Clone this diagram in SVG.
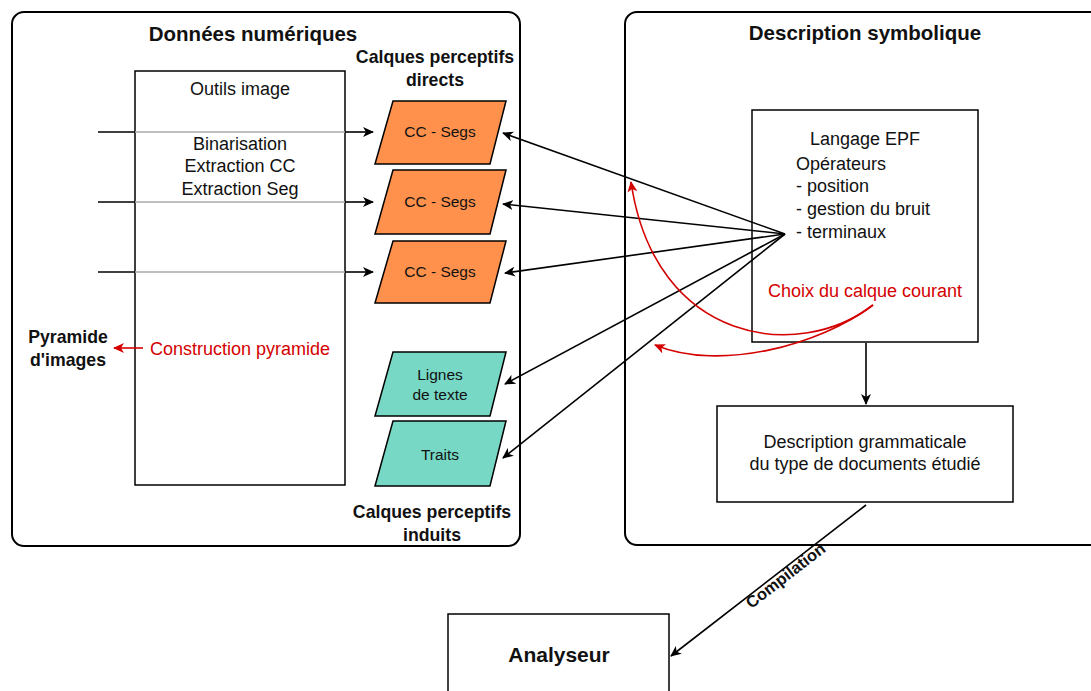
<svg xmlns="http://www.w3.org/2000/svg" width="1091" height="691" viewBox="0 0 1091 691">
<style>
text{font-family:"Liberation Sans",Arial,sans-serif;fill:#111}
.t{font-weight:bold;font-size:20.5px;text-anchor:middle}
.b{font-weight:bold;font-size:17.7px;text-anchor:middle}
.n{font-size:18px}
.c{text-anchor:middle}
.s{font-size:15.5px;text-anchor:middle}
.red{fill:#D40000}
.cont{fill:#fff;stroke:#000;stroke-width:2}
.box{fill:#fff;stroke:#000;stroke-width:1.5}
.or{fill:#FF914D;stroke:#000;stroke-width:1.5}
.gr{fill:#76D8C5;stroke:#000;stroke-width:1.5}
.ln{stroke:#000;stroke-width:1.6;fill:none}
.rl{stroke:#D40000;stroke-width:1.6;fill:none}
</style>
<defs>
<marker id="ab" markerWidth="12" markerHeight="10" refX="10" refY="5" orient="auto" markerUnits="userSpaceOnUse"><path d="M0,0 L11,5 L0,10 L3,5 z" fill="#000"/></marker>
<marker id="ar" markerWidth="12" markerHeight="10" refX="10" refY="5" orient="auto" markerUnits="userSpaceOnUse"><path d="M0,0 L11,5 L0,10 L3,5 z" fill="#D40000"/></marker>
</defs>
<rect width="1091" height="691" fill="#fff"/>
<g id="donnees">
<rect class="cont" x="12" y="12" width="508" height="534" rx="12"/>
<text class="t" x="253" y="41">Données numériques</text>
<text class="b" x="435" y="63">Calques perceptifs</text>
<text class="b" x="435" y="86">directs</text>
<text class="b" x="432" y="518">Calques perceptifs</text>
<text class="b" x="432" y="541">induits</text>
</g>
<g id="symbolique">
<rect class="cont" x="625" y="12" width="480" height="533" rx="12"/>
<text class="t" x="865" y="40">Description symbolique</text>
</g>
<g id="outils">
<rect class="box" x="135" y="71" width="210" height="414"/>
<text class="n c" x="240" y="95">Outils image</text>
<text class="n c" x="240" y="150">Binarisation</text>
<text class="n c" x="240" y="172">Extraction CC</text>
<text class="n c" x="240" y="195">Extraction Seg</text>
<text class="n red" x="150" y="355">Construction pyramide</text>
</g>
<g id="pyramide">
<text class="b" x="68" y="343">Pyramide</text>
<text class="b" x="68" y="366">d'images</text>
</g>
<g id="cc1"><polygon class="or" points="393,101 506,101 490,164 375,164"/><text class="s" x="440" y="137">CC - Segs</text></g>
<g id="cc2"><polygon class="or" points="393,170 506,170 490,234 375,234"/><text class="s" x="440" y="207">CC - Segs</text></g>
<g id="cc3"><polygon class="or" points="393,241 506,241 490,303 375,303"/><text class="s" x="440" y="277">CC - Segs</text></g>
<g id="lignes"><polygon class="gr" points="393,352 506,352 490,416 375,416"/><text class="s" x="440" y="380">Lignes</text><text class="s" x="440" y="400">de texte</text></g>
<g id="traits"><polygon class="gr" points="393,421 506,421 490,486 375,486"/><text class="s" x="440" y="460">Traits</text></g>
<g id="epf">
<rect class="box" x="752" y="110" width="226" height="232"/>
<text class="n c" x="865" y="145">Langage EPF</text>
<text class="n" x="796" y="170">Opérateurs</text>
<text class="n" x="796" y="192">- position</text>
<text class="n" x="796" y="215">- gestion du bruit</text>
<text class="n" x="796" y="238">- terminaux</text>
<text class="n c red" x="865" y="297">Choix du calque courant</text>
</g>
<g id="grammaire">
<rect class="box" x="717" y="406" width="296" height="96"/>
<text class="n c" x="865" y="448">Description grammaticale</text>
<text class="n c" x="865" y="470">du type de documents étudié</text>
</g>
<g id="analyseur">
<rect class="box" x="448" y="614" width="221" height="90"/>
<text class="c" x="559" y="662" style="font-weight:bold;font-size:21px">Analyseur</text>
</g>
<g id="connectors">
<g class="ln">
<line x1="98" y1="132" x2="135" y2="132"/><line x1="98" y1="202" x2="135" y2="202"/><line x1="98" y1="272" x2="135" y2="272"/>
</g>
<g stroke="#aaa" stroke-width="1.6">
<line x1="135" y1="132" x2="345" y2="132"/><line x1="135" y1="202" x2="345" y2="202"/><line x1="135" y1="272" x2="345" y2="272"/>
</g>
<line class="ln" x1="345" y1="132" x2="373" y2="132" marker-end="url(#ab)"/>
<line class="ln" x1="345" y1="202" x2="373" y2="202" marker-end="url(#ab)"/>
<line class="ln" x1="345" y1="272" x2="373" y2="272" marker-end="url(#ab)"/>
<line class="ln" x1="785" y1="234" x2="503" y2="133" marker-end="url(#ab)"/>
<line class="ln" x1="785" y1="234" x2="503" y2="204" marker-end="url(#ab)"/>
<line class="ln" x1="785" y1="234" x2="505" y2="273" marker-end="url(#ab)"/>
<line class="ln" x1="785" y1="234" x2="505" y2="384" marker-end="url(#ab)"/>
<line class="ln" x1="785" y1="234" x2="503" y2="458" marker-end="url(#ab)"/>
<line class="ln" x1="866" y1="343" x2="866" y2="404" marker-end="url(#ab)"/>
<line class="ln" x1="866" y1="505" x2="671" y2="656" marker-end="url(#ab)"/>
<text transform="translate(789,580) rotate(-37.8)" class="c" style="font-weight:bold;font-size:16.5px">Compilation</text>
<line class="rl" x1="143" y1="348" x2="114" y2="348" marker-end="url(#ar)"/>
<path class="rl" d="M873,305 C800,362 655,345 631,182" marker-end="url(#ar)"/>
<path class="rl" d="M873,305 C820,345 720,372 655,345" marker-end="url(#ar)"/>
</g>
</svg>
